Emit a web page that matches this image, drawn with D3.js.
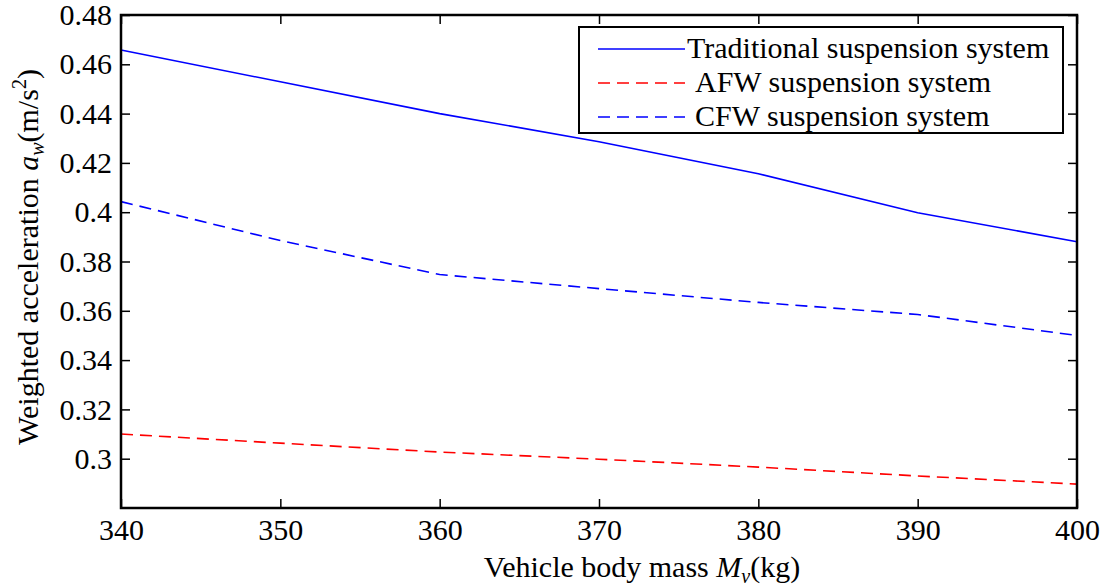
<!DOCTYPE html>
<html>
<head>
<meta charset="utf-8">
<script src="https://cdn.jsdelivr.net/npm/d3@7"></script>
<style>
  body { margin: 0; background: #fff; }
  svg text { font-family: "Liberation Serif", "Times New Roman", serif !important; fill: #000; }
</style>
</head>
<body>
<div id="graf"></div>
<script>
const masses = [340, 350, 360, 370, 380, 390, 400]
const traditional = [0.4658, 0.4529, 0.4400, 0.4286, 0.4156, 0.3998, 0.3880]
const afw = [0.3100, 0.3063, 0.3027, 0.2998, 0.2966, 0.2930, 0.2897]
const cfw = [0.4043, 0.3885, 0.3747, 0.3690, 0.3634, 0.3585, 0.3500]
const xTicks = [340, 350, 360, 370, 380, 390, 400]
const yTicks = [0.3, 0.32, 0.34, 0.36, 0.38, 0.4, 0.42, 0.44, 0.46, 0.48]

const series = [
  { name: "Traditional suspension system", values: traditional, color: "#0000ff", dash: null },
  { name: "AFW suspension system", values: afw, color: "#ff0000", dash: "12,7" },
  { name: "CFW suspension system", values: cfw, color: "#0000ff", dash: "12,7" }
]

const W = 1117, H = 588
const margins = { left: 121, top: 15, right: 40, bottom: 80 }
const ancho = W - margins.left - margins.right
const alto = H - margins.top - margins.bottom

const svg = d3.select("#graf").append("svg").attr("width", W).attr("height", H)
const g = svg.append("g").attr("transform", `translate(${margins.left}, ${margins.top})`)

const x = d3.scaleLinear().domain([340, 400]).range([0, ancho])
const y = d3.scaleLinear().domain([0.28, 0.48]).range([alto, 0])

const fmt = (d) => String(+d.toFixed(2))
const serif = "Liberation Serif, Times New Roman, serif"

// ticks inward on all four sides
g.append("g").attr("transform", `translate(0, ${alto})`)
  .call(d3.axisBottom(x).tickValues(xTicks).tickSize(-9).tickPadding(11).tickFormat(d3.format("d")))
g.append("g").call(d3.axisTop(x).tickValues(xTicks).tickSize(-9).tickFormat(""))
g.append("g").call(d3.axisLeft(y).tickValues(yTicks).tickSize(-9).tickPadding(9).tickFormat(fmt))
g.append("g").attr("transform", `translate(${ancho}, 0)`)
  .call(d3.axisRight(y).tickValues(yTicks).tickSize(-9).tickFormat(""))

g.selectAll(".domain").remove()
g.selectAll("g").attr("font-family", serif).attr("font-size", 30)
g.selectAll(".tick line").attr("stroke", "#000").attr("stroke-width", 1.5)
g.selectAll(".tick text").attr("fill", "#000")

const line = d3.line().x((d) => x(d[0])).y((d) => y(d[1]))

series.forEach((s) => {
  g.append("path")
    .datum(masses.map((m, i) => [m, s.values[i]]))
    .attr("d", line)
    .attr("fill", "none")
    .attr("stroke", s.color)
    .attr("stroke-width", 1.6)
    .attr("stroke-dasharray", s.dash)
})

g.append("rect")
  .attr("width", ancho).attr("height", alto)
  .attr("fill", "none").attr("stroke", "#000").attr("stroke-width", 2.5)

// legend
const leg = g.append("g").attr("transform", `translate(${579 - margins.left}, ${27 - margins.top})`)
leg.append("rect").attr("width", 484).attr("height", 106)
  .attr("fill", "#fff").attr("stroke", "#000").attr("stroke-width", 2)
series.forEach((s, i) => {
  const ly = 22 + i * 34
  leg.append("line").attr("x1", 19).attr("x2", 106).attr("y1", ly).attr("y2", ly)
    .attr("stroke", s.color).attr("stroke-width", 1.6).attr("stroke-dasharray", s.dash)
  leg.append("text").attr("x", i === 0 ? 108 : 116).attr("y", ly + 9)
    .style("font-size", "30px").text(s.name)
})

// axis labels
const xl = svg.append("text").attr("x", 642).attr("y", 577)
  .attr("text-anchor", "middle").style("font-size", "30px")
xl.append("tspan").text("Vehicle body mass ")
xl.append("tspan").style("font-style", "italic").text("M")
xl.append("tspan").style("font-style", "italic").style("font-size", "20px").attr("dy", 6).text("v")
xl.append("tspan").attr("dy", -6).text("(kg)")

const yl = svg.append("text")
  .attr("transform", `translate(38, 257) rotate(-90)`)
  .attr("text-anchor", "middle").style("font-size", "30px")
yl.append("tspan").text("Weighted acceleration ")
yl.append("tspan").style("font-style", "italic").text("a")
yl.append("tspan").style("font-style", "italic").style("font-size", "20px").attr("dy", 6).text("w")
yl.append("tspan").attr("dy", -6).text("(m/s")
yl.append("tspan").style("font-size", "20px").attr("dy", -12).text("2")
yl.append("tspan").attr("dy", 12).text(")")
</script>
</body>
</html>
